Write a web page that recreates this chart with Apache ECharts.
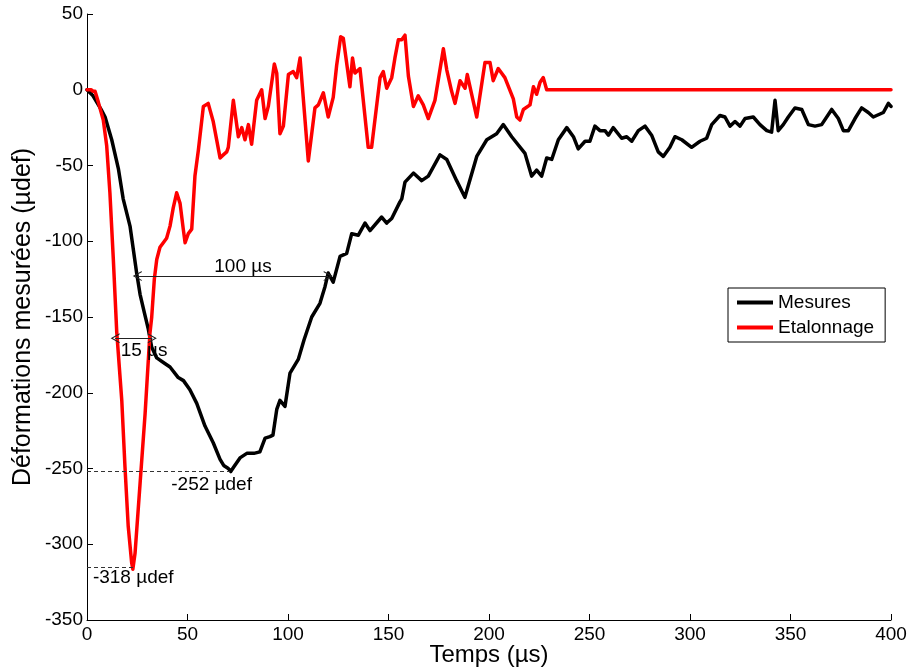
<!DOCTYPE html>
<html>
<head>
<meta charset="utf-8">
<script src="https://cdn.jsdelivr.net/npm/echarts@6/dist/echarts.min.js"></script>
<style>
html,body{margin:0;padding:0;background:#fff;}
#chart{width:909px;height:670px;}
</style>
</head>
<body>
<div id="chart"></div>
<script>
// ---- data ----
const xTicks = [0, 50, 100, 150, 200, 250, 300, 350, 400];
const yTicks = [-350, -300, -250, -200, -150, -100, -50, 0, 50];
const seriesNames = ['Mesures', 'Etalonnage'];

const mesures = [
  [0,0],[3,-4],[7,-13],[9,-18],[12.3,-33],[15.6,-52],[18,-72],[21.4,-90],[24.7,-121],[26.4,-135],
  [28.5,-147],[30.5,-158],[32.2,-170],[34.7,-177],[38,-180],[41.3,-183],[45.4,-190],[48,-192],
  [51.2,-198],[54.6,-207],[58.7,-222],[62.8,-233],[66.2,-244],[68,-248],[70.3,-250],[71.5,-252],
  [73,-249],[76.1,-243],[79.5,-240],[83,-240],[86,-239],[88.6,-230],[91,-229],[92.5,-228],
  [94.4,-211],[96,-205],[98.5,-209],[101,-187],[105.1,-178],[108,-165],[111.8,-150],[115.9,-141],
  [118.4,-130],[120,-121],[122.5,-127],[125.9,-110],[129.2,-108],[131.7,-95],[135,-96],[138.3,-88],
  [140.8,-93],[146.6,-84],[149.1,-88],[151.6,-85],[155.7,-74],[156.6,-72],[158.2,-61],[162.4,-55],
  [166.5,-60],[169.8,-57],[175.6,-43],[179,-46],[183.9,-60],[188,-71],[193.9,-44],[198.9,-33],
  [203.8,-29],[207.1,-23],[211.3,-31],[217.9,-42],[221.2,-57],[223.7,-53],[226.2,-57],[228.7,-45],
  [231.2,-46],[234.5,-33],[238.7,-25],[242,-31],[244.4,-39],[247.8,-34],[250.2,-34],[252.7,-24],
  [255.2,-27],[257.7,-27],[259.4,-30],[261.8,-25],[266,-32],[268.5,-31],[271,-34],[274.3,-27],
  [277.6,-24],[280.9,-30],[284.2,-41],[286.7,-44],[290,-38],[292.5,-31],[295.9,-33],[300.8,-38],
  [305,-34],[308.3,-32],[310.8,-23],[314.9,-17],[317.4,-18],[319.9,-24],[322.4,-21],[324.9,-24],
  [327.4,-19],[331.5,-18],[334.8,-23],[338.2,-27],[340.6,-28],[342.3,-7],[343.9,-27],[346.4,-23],
  [348.9,-18],[352.2,-12],[355.6,-13],[358.9,-23],[362.2,-24],[365.5,-23],[370.5,-13],[373.8,-19],
  [376.3,-27],[378.8,-27],[382.1,-19],[385.4,-12],[388.7,-15],[391.2,-18],[396.2,-15],[398.7,-9],
  [400,-11]
];

const etalonnage = [
  [0,0],[2,0],[3,-1],[4,-1],[5.6,-8],[8.1,-20],[9.8,-37],[11.4,-68],[13.1,-112],[14.8,-160],
  [17.3,-205],[18.9,-249],[20.5,-288],[22.2,-312],[22.8,-316.5],[23.9,-306],[26.4,-260],[28.9,-214],
  [31.3,-161],[32.2,-150],[33.5,-125],[34.7,-112],[36.3,-104],[39.6,-98],[41.3,-90],[42.9,-78],
  [44.6,-68],[46.3,-75],[47.9,-92],[48.8,-101],[50.4,-95],[52.1,-92],[53.7,-57],[55.4,-40],
  [57.9,-11],[60.3,-9],[61.2,-10],[62.8,-21],[66.2,-45],[67.8,-43],[69.5,-41],[70.3,-38],[72.8,-7],
  [75.3,-31],[77,-25],[78.6,-33],[80.3,-23],[81.9,-36],[84.4,-7],[86.9,0],[88.6,-19],[90.2,-11],
  [91,-11],[93.2,17],[94.4,11],[96,-29],[97.7,-24],[100.2,10],[102.6,12],[104.3,8],[106,21],
  [110.1,-47],[113.4,-12],[115.1,-10],[117.6,-2],[120,-18],[122.5,-5],[124.2,16],[126.2,35],
  [127.5,34],[130.8,2],[132.1,21],[133.3,11],[135.8,14],[139.9,-38],[141.6,-38],[145.8,8],
  [147.4,12],[149.1,1],[151.6,8],[153.2,21],[154.9,33],[156.6,33],[158.2,36],[159.9,9],[162.4,-11],
  [164.8,-4],[167.3,-10],[169.8,-19],[173.1,-7],[177.3,27],[179,13],[181.4,-1],[183.1,-9],
  [185.6,6],[188.1,1],[189.2,10],[193.9,-18],[198,18],[200.5,18],[202.1,6],[204.6,14],[207.9,8],
  [212.1,-6],[213.8,-18],[215.4,-20],[217.1,-13],[220.4,-10],[222.1,2],[223.7,-3],[225.4,5],
  [227,8],[228.7,0],[230,0],[400,0]
];

// annotations (data coordinates)
const arrowLines = [ [[25,-123],[120,-123]], [[14,-164],[32.5,-164]] ];
const dashLines = [ [[0,-252],[71,-252]], [[0,-315],[23,-315]] ];
const annotTexts = ['100 µs', '15 µs', '-252 µdef', '-318 µdef'];
const annotPos = [[77.6,-117],[28.4,-172.3],[62,-261],[23,-322.3]];

const FONT = 'Liberation Sans, Arial, Helvetica, sans-serif';
const chevron = 'path://M0,0 L6,10 L4.6,10 L0,2.4 L-4.6,10 L-6,10 Z';

const chart = echarts.init(document.getElementById('chart'), null, {renderer: 'canvas'});
chart.setOption({
  animation: false,
  backgroundColor: '#fff',
  textStyle: {fontFamily: FONT},
  grid: {left: 87, right: 18, top: 14, bottom: 50, outerBoundsMode: 'none', containLabel: false},
  legend: {
    data: seriesNames,
    orient: 'vertical',
    left: 728, top: 288,
    padding: [5, 11, 5, 9],
    itemGap: 6,
    itemWidth: 36, itemHeight: 4,
    icon: 'rect',
    borderColor: '#000', borderWidth: 1,
    backgroundColor: '#fff',
    textStyle: {fontFamily: FONT, fontSize: 19, color: '#000', lineHeight: 19}
  },
  xAxis: {
    type: 'value', min: xTicks[0], max: xTicks[xTicks.length-1], interval: 50,
    name: 'Temps (µs)', nameLocation: 'middle', nameGap: 23, nameMoveOverlap: false,
    nameTextStyle: {fontFamily: FONT, fontSize: 24, color: '#000'},
    axisLine: {onZero: false, lineStyle: {color: '#000', width: 1}},
    axisTick: {inside: true, length: 6, lineStyle: {color: '#000'}},
    axisLabel: {fontFamily: FONT, fontSize: 19, color: '#000', margin: 5},
    splitLine: {show: false}
  },
  yAxis: {
    type: 'value', min: yTicks[0], max: yTicks[yTicks.length-1], interval: 50,
    name: 'Déformations mesurées (µdef)', nameLocation: 'middle', nameGap: 51, nameMoveOverlap: false,
    nameTextStyle: {fontFamily: FONT, fontSize: 25, color: '#000'},
    axisLine: {onZero: false, lineStyle: {color: '#000', width: 1}},
    axisTick: {inside: true, length: 6, lineStyle: {color: '#000'}},
    axisLabel: {fontFamily: FONT, fontSize: 19, color: '#000', margin: 4},
    splitLine: {show: false}
  },
  series: [
    {name: seriesNames[0], type: 'line', data: mesures, symbol: 'none', smooth: false,
     lineStyle: {color: '#000', width: 3.5, join: 'round', cap: 'round'}, itemStyle: {color: '#000'}, z: 2},
    {name: seriesNames[1], type: 'line', data: etalonnage, symbol: 'none', smooth: false,
     lineStyle: {color: '#ff0000', width: 3.5, join: 'round', cap: 'round'}, itemStyle: {color: '#ff0000'}, z: 3},
    {name: 'annot-lines', type: 'line', data: [], z: 4,
     markLine: {
       silent: true, animation: false,
       label: {show: false},
       data: [
         ...arrowLines.map(l => [
           {coord: l[0], symbol: chevron, symbolSize: [10, 9], lineStyle: {color: '#222', width: 1, type: 'solid', opacity: 1}, itemStyle: {color: '#222'}},
           {coord: l[1], symbol: chevron, symbolSize: [10, 9]}
         ]),
         ...dashLines.map(l => [
           {coord: l[0], symbol: 'none', lineStyle: {color: '#333', width: 1, type: [4, 3], opacity: 1}},
           {coord: l[1], symbol: 'none'}
         ])
       ]
     }},
    {name: 'annot-text', type: 'scatter', symbolSize: 0, z: 5,
     itemStyle: {opacity: 1},
     data: annotTexts.map((t, i) => ({name: t, value: annotPos[i]})),
     label: {show: true, position: [0, 0], align: 'center', verticalAlign: 'middle', opacity: 1,
       formatter: p => p.name, fontFamily: FONT, fontSize: 19, color: '#000'},
     silent: true}
  ]
});
</script>
</body>
</html>
